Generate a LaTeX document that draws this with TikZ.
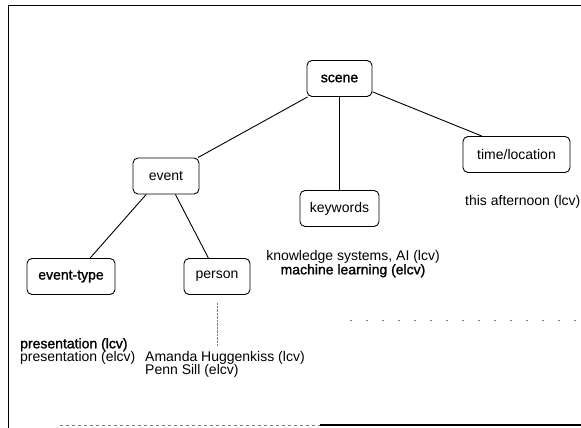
\documentclass[tikz,border=0pt]{standalone}
\usepackage{fontspec}
\setmainfont{Liberation Sans}
\newfontfamily\heavy{Liberation Sans}[FakeBold=1.4]
\usetikzlibrary{positioning}

\tikzset{
  slot/.style={draw, rounded corners=5pt, line width=0.9pt, fill=white,
               minimum height=36pt, inner sep=0pt, font=\fontsize{14}{14}\selectfont},
  edge/.style={line width=0.9pt},
  label/.style={inner sep=0pt, align=left, font=\fontsize{14}{13.5}\selectfont}
}

\begin{document}
\begin{tikzpicture}[x=1pt, y=-1pt]
\useasboundingbox (0,0) rectangle (581,428);

% frame of the scanned page
\draw[line width=1pt] (581,6) -- (8,6) -- (8,428);
\draw[line width=0.8pt, gray, dashed] (60,425) -- (320,425);
\draw[line width=1.2pt] (320,425) -- (581,425);

% the tree
\node[slot, minimum width=65pt] (scene) at (339.5,78.5) {\heavy scene};
\node[slot, minimum width=66pt] (event) at (166,176) {event};
\node[slot, minimum width=79pt] (keywords) at (339.5,208.5) {keywords};
\node[slot, minimum width=107pt] (timeloc) at (516.5,154.5) {time/location};
\node[slot, minimum width=88pt] (evtype) at (71,276.5) {\heavy event-type};
\node[slot, minimum width=66pt] (person) at (217,276.5) {person};

\draw[edge] (scene.210) -- (event.30);
\draw[edge] (scene.south) -- (keywords.north);
\draw[edge] (scene.-22) -- (timeloc.152);
\draw[edge] (event.223) -- (evtype.44);
\draw[edge] (event.-63) -- (person.115);

% the slot values
\node[label, anchor=west] (aftn) at (465,202) {this afternoon (lcv)};
\node[label, anchor=center, align=center] (kwval) at (353,264)
     {knowledge systems, AI (lcv)\\ \heavy machine learning (elcv)};
\node[label, anchor=north west] (typeval) at (20,338)
     {{\heavy presentation (lcv)}\\ presentation (elcv)};
\node[label, anchor=north west] (persval) at (145,351)
     {Amanda Huggenkiss (lcv)\\ Penn Sill (elcv)};

% faint marks left in the scan
\coordinate (pend) at (217,345);
\draw[gray, densely dotted] ([yshift=-8pt]person.south) -- (pend);
\coordinate (ma) at (350,320);
\coordinate (mb) at (581,320);
\draw[gray, dash pattern=on 2pt off 14pt] (ma) -- (mb);

\end{tikzpicture}
\end{document}
